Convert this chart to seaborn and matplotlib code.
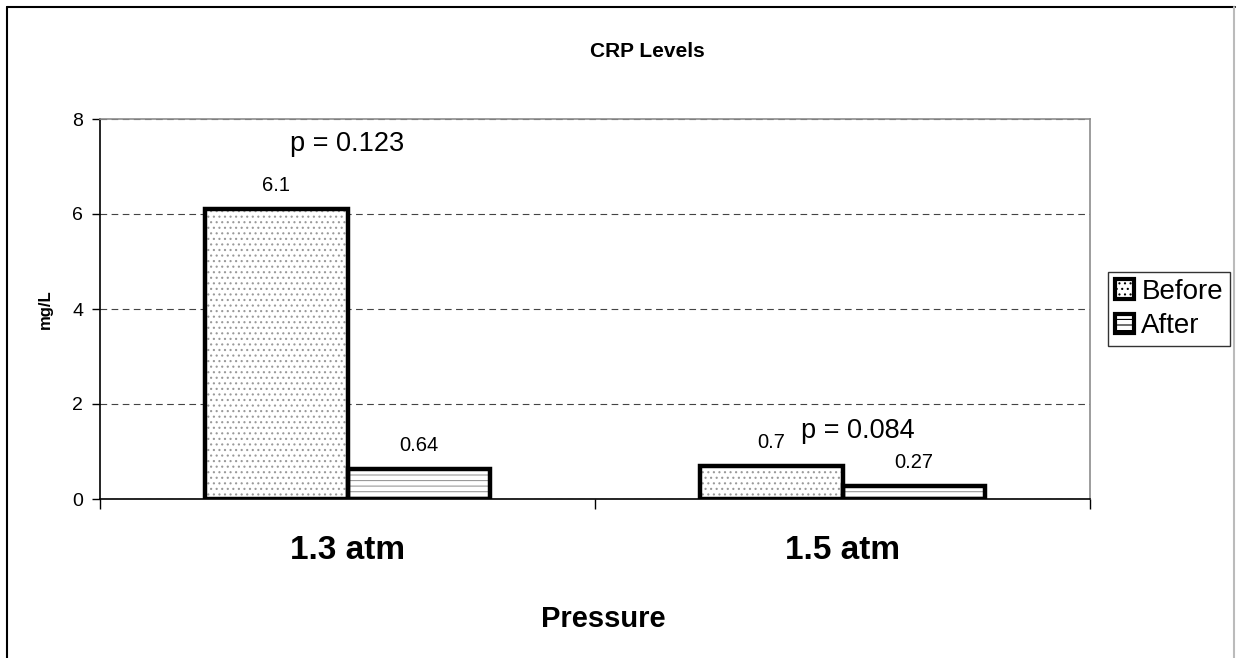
import matplotlib
matplotlib.use("Agg")
import matplotlib.pyplot as plt
from matplotlib.patches import Patch, Rectangle
from matplotlib.lines import Line2D
import pandas as pd
import seaborn as sns

# chart data
pressures = ["1.3 atm", "1.5 atm"]
timepoints = ["Before", "After"]
before_vals = [6.1, 0.7]
after_vals = [0.64, 0.27]
p_values = ["p = 0.123", "p = 0.084"]
y_ticks = [0, 2, 4, 6, 8]

sns.set_theme(style="white")
plt.rcParams["font.family"] = ["Liberation Sans", "DejaVu Sans"]
plt.rcParams["hatch.linewidth"] = 0.8
for key in ["text.color", "axes.labelcolor", "xtick.color", "ytick.color"]:
    plt.rcParams[key] = "black"

df = pd.DataFrame({
    "Pressure": pressures * 2,
    "Time": ["Before"] * len(pressures) + ["After"] * len(pressures),
    "CRP": before_vals + after_vals,
})

fig = plt.figure(figsize=(12.36, 6.58), dpi=100)
ax = fig.add_axes([100 / 1236, 159 / 658, 990 / 1236, 380 / 658])

sns.barplot(data=df, x="Pressure", y="CRP", hue="Time", hue_order=timepoints,
            palette=["white", "white"], width=0.574, edgecolor="#9a9a9a",
            linewidth=0, legend=False, ax=ax)

hatches = ["...", "---"]
for container, hatch in zip(ax.containers, hatches):
    for bar in container:
        bar.set_hatch(hatch)
        # thick black outline drawn over the hatched bar
        ax.add_patch(Rectangle(bar.get_xy(), bar.get_width(), bar.get_height(),
                               fill=False, edgecolor="black", lw=3.2, zorder=3))
    ax.bar_label(container, labels=[f"{v:g}" for v in container.datavalues],
                 padding=10, fontsize=14.5)

# p-value annotations
ax.text(0, 7.47, p_values[0], ha="center", va="center", fontsize=19.5)
ax.text(1.03, 1.43, p_values[1], ha="center", va="center", fontsize=19.5)

ax.set_xlim(-0.5, 1.5)
ax.set_ylim(0, 8)
ax.set_yticks(y_ticks)
ax.yaxis.grid(True, color="#444444", linestyle=(0, (6, 4)), lw=0.8)
ax.set_axisbelow(True)

# category boundaries carry the tick marks, labels sit at the centres
ax.set_xticks([-0.5, 0.5, 1.5])
ax.set_xticklabels([])
ax.set_xticks([0, 1], minor=True)
ax.set_xticklabels(pressures, minor=True, fontsize=24, fontweight="bold")
ax.tick_params(axis="x", which="major", direction="out", length=7, width=1, color="black", bottom=True)
ax.tick_params(axis="x", which="minor", length=0, pad=26)
ax.tick_params(axis="y", direction="out", length=6, width=1, color="black", left=True, labelsize=14, pad=6)

for side in ["left", "bottom"]:
    ax.spines[side].set_color("black")
    ax.spines[side].set_linewidth(1.2)
for side in ["top", "right"]:
    ax.spines[side].set_color("#8c8c8c")
    ax.spines[side].set_linewidth(1.2)

ax.set_xlabel("Pressure", fontsize=21, fontweight="bold")
ax.xaxis.set_label_coords(0.508, -0.28)
ax.set_ylabel("mg/L", fontsize=12, fontweight="bold")
ax.yaxis.set_label_coords(-0.048, 0.5)

fig.suptitle("CRP Levels", x=0.524, y=0.921, fontsize=15, fontweight="bold", va="center")

handles = [Patch(facecolor="white", edgecolor="black", hatch=h, lw=3) for h in hatches]
leg = fig.legend(handles, timepoints, loc="center left", bbox_to_anchor=(1108 / 1236, 349 / 658),
                 fontsize=20, frameon=True, fancybox=False, borderaxespad=0,
                 handlelength=0.7, handleheight=0.7, handletextpad=0.25,
                 labelspacing=0.3, borderpad=0.25)
leg.get_frame().set_edgecolor("black")
leg.get_frame().set_linewidth(1)

# outer chart-area frame
fig.add_artist(Line2D([7 / 1236, 7 / 1236], [0, 651 / 658], color="black", lw=1.5))
fig.add_artist(Line2D([7 / 1236, 1235 / 1236], [651 / 658, 651 / 658], color="black", lw=1.5))
fig.add_artist(Line2D([1234 / 1236, 1234 / 1236], [0, 651 / 658], color="#bbbbbb", lw=1.5))

fig.savefig("out.png", dpi=100)
